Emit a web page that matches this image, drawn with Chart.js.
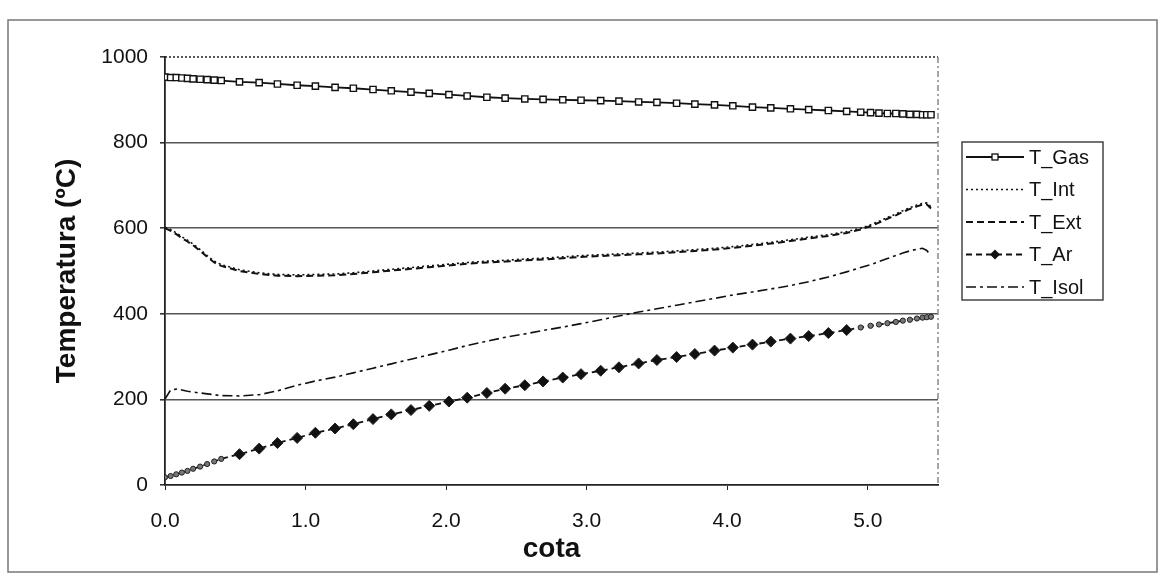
<!DOCTYPE html>
<html>
<head>
<meta charset="utf-8">
<script src="https://cdn.jsdelivr.net/npm/chart.js@4"></script>
<style>
  html, body { margin: 0; padding: 0; background: #fff; }
  #wrap { width: 1163px; height: 578px; position: relative; }
</style>
</head>
<body>
<div id="wrap"><canvas id="chart"></canvas></div>
<script>
// cota (m) - finer mesh near both ends
const cota = [0, 0.04, 0.08, 0.12, 0.16, 0.20, 0.25, 0.30, 0.35, 0.40,
  0.53, 0.67, 0.80, 0.94, 1.07, 1.21, 1.34, 1.48, 1.61, 1.75,
  1.88, 2.02, 2.15, 2.29, 2.42, 2.56, 2.69, 2.83, 2.96, 3.10,
  3.23, 3.37, 3.50, 3.64, 3.77, 3.91, 4.04, 4.18, 4.31, 4.45,
  4.58, 4.72, 4.85,
  4.95, 5.02, 5.08, 5.14, 5.20, 5.25, 5.30, 5.35, 5.39, 5.42, 5.45];

const tGas = [953, 952, 952, 951, 950, 949, 948, 947, 946, 945,
  942, 940, 937, 934, 932, 929, 927, 924, 921, 918,
  915, 912, 909, 906, 904, 902, 901, 900, 899, 898,
  897, 895, 894, 892, 890, 888, 886, 883, 881, 879,
  877, 875, 873,
  871, 870, 869, 868, 868, 867, 866, 866, 865, 865, 865];

const tInt = [602, 597, 589, 580, 572, 563, 550, 536, 523, 515,
  503, 496, 492, 491, 492, 493, 496, 500, 504, 508,
  512, 516, 520, 523, 525, 528, 530, 533, 536, 538,
  540, 542, 544, 547, 550, 553, 557, 562, 567, 573,
  579, 585, 592,
  600, 608, 616, 625, 633, 641, 648, 654, 658, 659, 650];

const tExt = [600, 594, 586, 577, 569, 560, 547, 533, 520, 512,
  500, 493, 489, 488, 489, 490, 493, 497, 501, 505,
  509, 513, 517, 520, 522, 525, 527, 530, 533, 535,
  537, 539, 541, 544, 547, 550, 554, 559, 564, 570,
  576, 582, 589,
  597, 605, 613, 622, 630, 638, 645, 651, 655, 656, 646];

const tAr = [18, 21, 25, 29, 33, 38, 43, 49, 55, 61,
  72, 85, 98, 110, 122, 132, 142, 154, 165, 175,
  185, 195, 204, 215, 225, 233, 242, 251, 259, 267,
  275, 284, 292, 299, 306, 314, 321, 328, 335, 342,
  348, 355, 362,
  368, 372, 375, 378, 381, 384, 386, 389, 391, 392, 393];

const tIsol = [201, 222, 224, 222, 219, 217, 215, 213, 211, 209,
  208, 211, 220, 233, 243, 252, 262, 273, 283, 294,
  304, 315, 326, 336, 345, 353, 361, 369, 377, 386,
  395, 404, 412, 420, 428, 436, 444, 451, 458, 466,
  475, 486, 498,
  508, 515, 522, 529, 536, 542, 547, 551, 553, 548, 536];

const yTicks = [0, 200, 400, 600, 800, 1000];
const xTicks = [0, 1, 2, 3, 4, 5];

const FONT = "'Liberation Sans', Arial, sans-serif";
const pts = arr => arr.map((v, i) => ({ x: cota[i], y: v }));
const fine = ctx => { const r = ctx.raw; return r && (r.x < 0.45 || r.x > 4.9); };

const styles = [
  { label: "T_Gas", data: tGas, dash: [], width: 1.8, marker: "square" },
  { label: "T_Int", data: tInt, dash: [2, 3], width: 1.6, marker: null },
  { label: "T_Ext", data: tExt, dash: [7, 4], width: 2, marker: null },
  { label: "T_Ar", data: tAr, dash: [6, 4], width: 1.8, marker: "diamond" },
  { label: "T_Isol", data: tIsol, dash: [10, 4, 3, 4], width: 1.6, marker: null }
];

const datasets = styles.map(s => {
  const ds = { label: s.label, data: pts(s.data), showLine: true, borderColor: "#111", borderWidth: s.width, borderDash: s.dash, tension: 0, pointRadius: 0 };
  if (s.marker === "square") Object.assign(ds, { pointStyle: "rect", pointRadius: 4.4, pointBorderWidth: 1.4, pointBackgroundColor: "#fff", pointBorderColor: "#111" });
  if (s.marker === "diamond") Object.assign(ds, {
    pointStyle: ctx => fine(ctx) ? "circle" : "rectRot",
    pointRadius: ctx => fine(ctx) ? 2.6 : 5.5,
    pointBorderWidth: 1, pointBackgroundColor: ctx => fine(ctx) ? "#777" : "#111", pointBorderColor: "#222"
  });
  return ds;
});

function drawMarker(ctx, kind, x, y) {
  ctx.setLineDash([]);
  if (kind === "square") { ctx.fillStyle = "#fff"; ctx.lineWidth = 1.3; ctx.fillRect(x - 3, y - 3, 6, 6); ctx.strokeRect(x - 3, y - 3, 6, 6); }
  if (kind === "diamond") { ctx.fillStyle = "#111"; ctx.beginPath(); ctx.moveTo(x, y - 5); ctx.lineTo(x + 5, y); ctx.lineTo(x, y + 5); ctx.lineTo(x - 5, y); ctx.closePath(); ctx.fill(); }
}

const frame = {
  id: "frame",
  beforeDraw(chart) {
    const ctx = chart.ctx;
    ctx.save();
    ctx.fillStyle = "#fff"; ctx.fillRect(0, 0, chart.width, chart.height);
    ctx.strokeStyle = "#777"; ctx.lineWidth = 1.5;
    ctx.strokeRect(8, 20, 1149, 552);
    ctx.restore();
  },
  afterDraw(chart) {
    const { ctx, chartArea: a } = chart;
    ctx.save();
    ctx.strokeStyle = "#222"; ctx.lineWidth = 1.5; ctx.setLineDash([2, 2]);
    ctx.beginPath(); ctx.moveTo(a.left, a.top); ctx.lineTo(a.right, a.top); ctx.stroke();
    ctx.strokeStyle = "#888"; ctx.setLineDash([6, 3, 2, 3]);
    ctx.beginPath(); ctx.moveTo(a.right, a.top); ctx.lineTo(a.right, a.bottom); ctx.stroke();
    // legend box
    ctx.setLineDash([]); ctx.strokeStyle = "#444"; ctx.lineWidth = 1.5;
    ctx.strokeRect(962, 142, 141, 158);
    ctx.font = "20px " + FONT; ctx.textBaseline = "middle"; ctx.fillStyle = "#111";
    styles.forEach((s, i) => {
      const y = 157 + i * 32.5;
      ctx.strokeStyle = "#111"; ctx.lineWidth = s.width; ctx.setLineDash(s.dash);
      ctx.beginPath(); ctx.moveTo(966, y); ctx.lineTo(1024, y); ctx.stroke();
      if (s.marker) { ctx.strokeStyle = "#111"; drawMarker(ctx, s.marker, 995, y); }
      ctx.fillStyle = "#111"; ctx.fillText(s.label, 1029, y + 1);
    });
    ctx.restore();
  }
};

new Chart(document.getElementById("chart"), {
  type: "scatter",
  data: { datasets },
  options: {
    responsive: true, maintainAspectRatio: false, animation: false,
    layout: { padding: { left: 0, top: 57, right: 225, bottom: 0 } },
    plugins: { legend: { display: false }, tooltip: { enabled: false } },
    scales: {
      x: {
        type: "linear", min: 0, max: 5.5,
        afterFit: s => { s.height = 93; },
        afterBuildTicks: s => { s.ticks = xTicks.map(v => ({ value: v })); },
        ticks: { callback: v => Number(v).toFixed(1), font: { family: FONT, size: 21 }, color: "#111", padding: 19, maxRotation: 0 },
        grid: { drawOnChartArea: false, drawTicks: true, tickLength: 5, color: "#222" },
        border: { color: "#222", width: 1.8 },
        title: { display: true, text: "cota", font: { family: FONT, size: 28, weight: "bold" }, color: "#111", padding: { top: 0, bottom: 12 } }
      },
      y: {
        min: 0, max: 1000,
        afterFit: s => { s.width = 165; },
        afterBuildTicks: s => { s.ticks = yTicks.map(v => ({ value: v })); },
        ticks: { callback: v => String(v), font: { family: FONT, size: 21 }, color: "#111", padding: 12 },
        grid: { tickLength: 5, lineWidth: 1.6, color: c => (c.tick && (c.tick.value === 0 || c.tick.value === 1000)) ? "rgba(0,0,0,0)" : "#555", tickColor: "#333" },
        border: { color: "#222", width: 1.8 },
        title: { display: true, text: "Temperatura (ºC)", font: { family: FONT, size: 28, weight: "bold" }, color: "#111", padding: { top: 50, bottom: 0 } }
      }
    }
  },
  plugins: [frame]
});
</script>
</body>
</html>
